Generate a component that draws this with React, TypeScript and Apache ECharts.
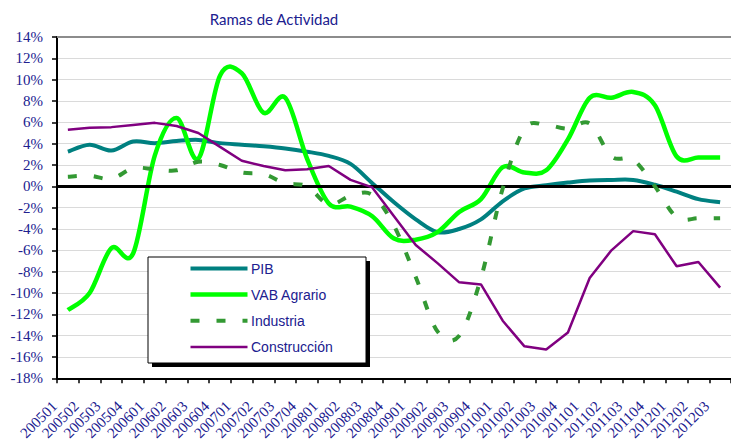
import React, { useEffect, useRef } from "react";
import * as echarts from "echarts";

const categories = [
  "200501", "200502", "200503", "200504",
  "200601", "200602", "200603", "200604",
  "200701", "200702", "200703", "200704",
  "200801", "200802", "200803", "200804",
  "200901", "200902", "200903", "200904",
  "201001", "201002", "201003", "201004",
  "201101", "201102", "201103", "201104",
  "201201", "201202", "201203",
];

const pib = [3.25, 3.9, 3.35, 4.2, 4.05, 4.25, 4.35, 4.05, 3.9, 3.75, 3.55, 3.25, 2.85, 2.1, 0.3, -1.5, -3.1, -4.3, -4.0, -3.1, -1.4, -0.2, 0.1, 0.35, 0.55, 0.6, 0.6, 0.15, -0.5, -1.2, -1.5];
const vabAgrario = [-11.6, -10.0, -5.8, -6.3, 2.9, 6.4, 2.6, 10.4, 10.6, 6.9, 8.3, 2.6, -1.6, -1.9, -2.8, -4.9, -5.0, -4.3, -2.4, -1.2, 1.8, 1.3, 1.5, 4.4, 8.3, 8.3, 8.85, 7.6, 2.8, 2.7, 2.7];
const industria = [0.9, 1.0, 0.7, 1.7, 1.6, 1.5, 2.3, 2.0, 1.3, 1.15, 0.3, 0.0, -1.7, -0.9, -0.8, -3.7, -8.5, -13.6, -14.0, -8.6, -0.2, 5.4, 5.75, 5.4, 5.9, 2.8, 2.5, 0.0, -2.9, -3.0, -3.0];
const construccion = [5.3, 5.5, 5.55, 5.75, 5.95, 5.65, 5.0, 3.7, 2.4, 1.9, 1.5, 1.6, 1.9, 0.6, -0.1, -2.8, -5.5, -7.2, -9.0, -9.2, -12.6, -15.0, -15.3, -13.7, -8.6, -6.0, -4.2, -4.5, -7.5, -7.1, -9.5];

const yTicks = { min: -18, max: 14, interval: 2 };

const NAVY = "#20208f";
const COLORS = { pib: "#008080", vab: "#00ff00", ind: "#339933", con: "#800080" };
const SERIF = "Liberation Serif";

// Smoothed (Excel-like, Catmull-Rom) line drawn through the axis scales
function smoothSeries(name: string, values: number[], color: string, width: number, dash?: number[], z = 3) {
  return {
    name,
    type: "custom",
    data: [[0, values[0]]],
    z,
    silent: true,
    clip: true,
    renderItem: (params: any, api: any) => {
      const pts = values.map((v, i) => api.coord([i, v]));
      let d = `M${pts[0][0]},${pts[0][1]}`;
      for (let i = 0; i < pts.length - 1; i++) {
        const p0 = pts[i - 1] || pts[i];
        const p1 = pts[i];
        const p2 = pts[i + 1];
        const p3 = pts[i + 2] || pts[i + 1];
        const c1x = p1[0] + (p2[0] - p0[0]) / 6;
        const c1y = p1[1] + (p2[1] - p0[1]) / 6;
        const c2x = p2[0] - (p3[0] - p1[0]) / 6;
        const c2y = p2[1] - (p3[1] - p1[1]) / 6;
        d += ` C${c1x},${c1y} ${c2x},${c2y} ${p2[0]},${p2[1]}`;
      }
      return {
        type: "path",
        shape: { pathData: d },
        style: { fill: "none", stroke: color, lineWidth: width, lineDash: dash, lineCap: "butt", lineJoin: "round" },
      };
    },
  };
}

export default function App() {
  const ref = useRef<HTMLDivElement>(null);

  useEffect(() => {
    if (!ref.current) return;
    const chart = echarts.init(ref.current, undefined, { renderer: "svg" });

    const legendItems = [
      { name: "PIB", color: COLORS.pib, width: 4, dash: undefined as any },
      { name: "VAB Agrario", color: COLORS.vab, width: 4.5, dash: undefined as any },
      { name: "Industria", color: COLORS.ind, width: 4, dash: [9, 17] },
      { name: "Construcción", color: COLORS.con, width: 2.5, dash: undefined as any },
    ];
    const lgX = 148, lgY = 257, lgW = 218, lgH = 106;
    const rowY = [268.5, 294.5, 320.8, 347];
    const legendGraphics: any[] = [
      { type: "rect", shape: { x: lgX + 4, y: lgY + 4, width: lgW, height: lgH }, style: { fill: "#000" }, z: 100 },
      { type: "rect", shape: { x: lgX, y: lgY, width: lgW, height: lgH }, style: { fill: "#fff", stroke: "#000", lineWidth: 1 }, z: 101 },
    ];
    legendItems.forEach((it, i) => {
      legendGraphics.push({
        type: "line",
        shape: { x1: 190.5, y1: rowY[i], x2: 247.5, y2: rowY[i] },
        style: { stroke: it.color, lineWidth: it.width, lineDash: it.dash, lineCap: "butt" },
        z: 102,
      });
      legendGraphics.push({
        type: "text",
        x: 251,
        y: rowY[i],
        style: {
          text: it.name,
          fill: NAVY,
          font: "14px Liberation Sans",
          textVerticalAlign: "middle",
          textAlign: "left",
        },
        z: 102,
      });
    });

    const serifRich = { s: { fontFamily: SERIF, fontSize: 15, color: NAVY } };

    const option: any = {
      animation: false,
      backgroundColor: "#ffffff",
      title: {
        text: "Ramas de Actividad",
        left: 269,
        top: 6,
        textAlign: "center",
        textStyle: { color: NAVY, fontFamily: "Lato, sans-serif", fontSize: 15, fontWeight: "normal" },
      },
      grid: { left: 57, right: -8, top: 37, bottom: 62 },
      xAxis: {
        type: "category",
        data: categories,
        boundaryGap: true,
        axisLine: { show: true, onZero: false, lineStyle: { color: "#000", width: 2 } },
        axisTick: { show: true, length: 5, lineStyle: { color: "#000", width: 1.5 } },
        axisLabel: {
          interval: 0,
          rotate: 45,
          margin: 12,
          padding: [0, 19, 0, 0],
          color: NAVY,
          fontFamily: SERIF,
          fontSize: 15,
          formatter: (v: string) => `{s|${v}}`,
          rich: serifRich,
        },
        splitLine: { show: false },
      },
      yAxis: {
        type: "value",
        min: yTicks.min,
        max: yTicks.max,
        interval: yTicks.interval,
        axisLine: { show: true, lineStyle: { color: "#000", width: 2 } },
        axisTick: { show: true, length: 5, lineStyle: { color: "#000", width: 1.5 } },
        axisLabel: {
          margin: 14,
          color: NAVY,
          fontFamily: SERIF,
          fontSize: 15,
          formatter: (v: number) => `{s|${v}%}`,
          rich: serifRich,
        },
        splitLine: { show: true, lineStyle: { color: "#dadada", width: 1 } },
      },
      series: [
        {
          name: "ref",
          type: "line",
          data: [],
          silent: true,
          z: 1,
          markLine: {
            silent: true,
            symbol: ["none", "none"],
            label: { show: false },
            data: [
              { yAxis: 14, lineStyle: { color: "#8c8c8c", width: 2, type: "solid" } },
              { yAxis: 0, lineStyle: { color: "#000", width: 3, type: "solid" } },
            ],
          },
        },
        smoothSeries("PIB", pib, COLORS.pib, 4, undefined, 3),
        smoothSeries("VAB Agrario", vabAgrario, COLORS.vab, 4.5, undefined, 4),
        smoothSeries("Industria", industria, COLORS.ind, 4, [9, 17], 5),
        {
          name: "Construcción",
          type: "line",
          data: construccion,
          smooth: false,
          symbol: "none",
          lineStyle: { color: COLORS.con, width: 2.5 },
          z: 6,
        },
      ],
      graphic: legendGraphics,
    };

    chart.setOption(option);
    return () => chart.dispose();
  }, []);

  return (
    <div
      ref={ref}
      style={{ position: "fixed", left: 0, top: 0, width: 731, height: 443, background: "#fff" }}
    />
  );
}
